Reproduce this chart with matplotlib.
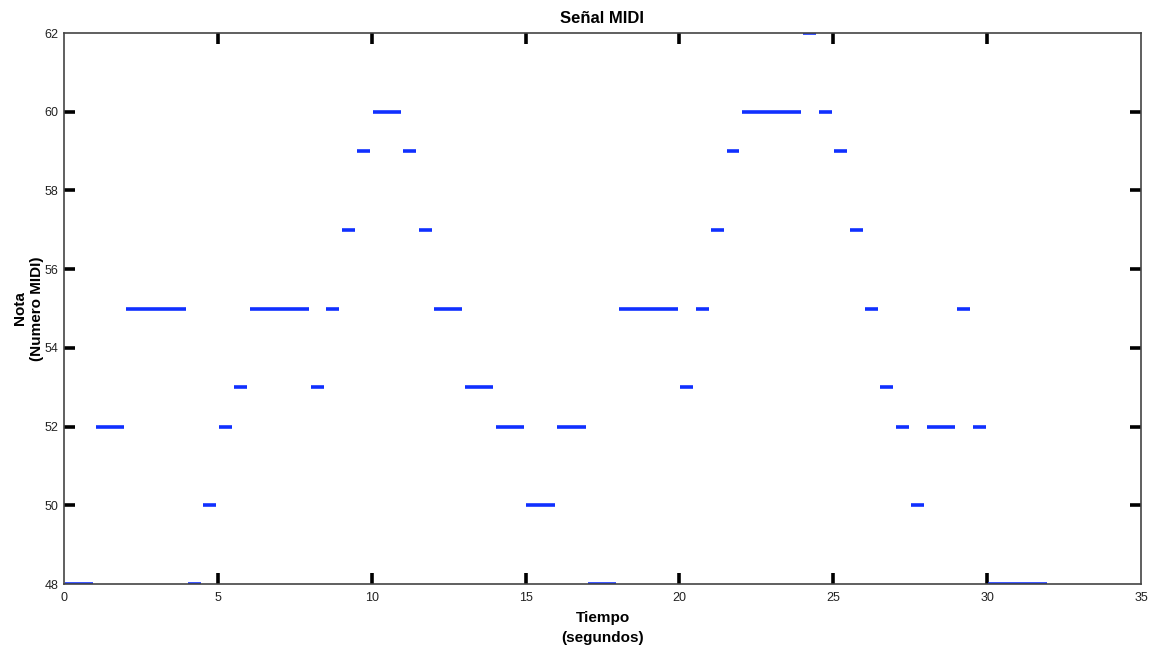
import numpy as np
import matplotlib
matplotlib.use("Agg")
from matplotlib import pyplot as plt

plt.rcParams['font.family'] = ['Liberation Sans', 'DejaVu Sans']

# note events: start time (s), end time (s), MIDI note
starts = [0, 1, 2, 4, 4.5, 5, 5.5, 6, 8, 8.5, 9, 9.5, 10, 11, 11.5, 12, 13, 14, 15, 16,
          17, 18, 20, 20.5, 21, 21.5, 22, 24, 24.5, 25, 25.5, 26, 26.5, 27, 27.5, 28, 29, 29.5, 30]
ends = [1, 2, 4, 4.5, 5, 5.5, 6, 8, 8.5, 9, 9.5, 10, 11, 11.5, 12, 13, 14, 15, 16, 17,
        18, 20, 20.5, 21, 21.5, 22, 24, 24.5, 25, 25.5, 26, 26.5, 27, 27.5, 28, 29, 29.5, 30, 32]
notes = [48, 52, 55, 48, 50, 52, 53, 55, 53, 55, 57, 59, 60, 59, 57, 55, 53, 52, 50, 52,
         48, 55, 53, 55, 57, 59, 60, 62, 60, 59, 57, 55, 53, 52, 50, 52, 55, 52, 48]

xticks = np.arange(0, 36, 5)
yticks = np.arange(48, 63, 2)

fig = plt.figure(figsize=(11.51, 6.45), dpi=100)
ax = fig.add_axes([64/1151, 1-584/645, (1141-64)/1151, (584-33)/645])

gap = 0.05
for s, e, n in zip(starts, ends, notes):
    ax.plot([s + gap*0.6, e - gap], [n, n], color="#1030ff", lw=2.6, solid_capstyle="butt")

ax.set_xlim(0, 35)
ax.set_ylim(48, 62)
ax.set_xticks(xticks)
ax.set_yticks(yticks)
ax.tick_params(direction="in", length=8, width=2.6, color="black",
               top=True, right=True, labelsize=9, labelcolor="#222222")
ax.tick_params(axis="x", pad=6)
ax.tick_params(axis="y", pad=4)
# no tick marks at the corners
for t in [ax.xaxis.get_major_ticks()[0], ax.xaxis.get_major_ticks()[-1],
          ax.yaxis.get_major_ticks()[0], ax.yaxis.get_major_ticks()[-1]]:
    t.tick1line.set_visible(False)
    t.tick2line.set_visible(False)
for sp in ax.spines.values():
    sp.set_color("#444444")
    sp.set_linewidth(1.2)

ax.set_title("Señal MIDI", fontsize=12, fontweight="bold", pad=7)
ax.set_xlabel("Tiempo\n(segundos)", fontsize=11, fontweight="bold", labelpad=5, linespacing=1.5)
ax.set_ylabel("Nota\n(Numero MIDI)", fontsize=11, fontweight="bold", labelpad=0, linespacing=1.3)

plt.savefig("out.png", dpi=100)
